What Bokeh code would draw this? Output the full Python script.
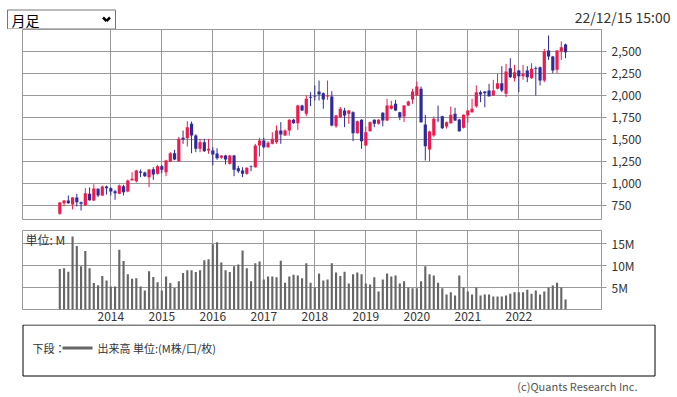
from bokeh.plotting import figure
from bokeh.layouts import column
from bokeh.models import (Range1d, FixedTicker, NumeralTickFormatter, PrintfTickFormatter,
                          ColumnDataSource, Label, BoxAnnotation, Arrow)
from bokeh.embed import file_html
from bokeh.resources import INLINE

# ---------------- data ----------------
months = [f"{y}-{m:02d}" for y in range(2013, 2023) for m in range(1, 13)]

open_ = [656, 776, 807, 761, 841, 787, 753, 883, 807, 939, 864, 966,
         947, 913, 883, 969, 909, 1038, 1026, 1136, 1125, 1072, 1163, 1110,
         1197, 1129, 1250, 1344, 1253, 1519, 1515, 1678, 1545, 1394, 1469, 1375,
         1375, 1340, 1292, 1318, 1224, 1318, 1174, 1148, 1110, 1195, 1185, 1432,
         1489, 1413, 1451, 1470, 1602, 1545, 1602, 1724, 1685, 1886, 1792, 1985,
         1998, 2045, 2026, 1990, 1989, 1651, 1754, 1830, 1792, 1810, 1572, 1724,
         1432, 1595, 1724, 1678, 1803, 1716, 1849, 1905, 1810, 1761, 1886, 1955,
         2000, 2076, 1670, 1386, 1545, 1725, 1765, 1647, 1685, 1792, 1727, 1633,
         1773, 1810, 1879, 2038, 2045, 2057, 2000, 2076, 2140, 2019, 2310, 2197,
         2284, 2220, 2284, 2197, 2310, 2322, 2170, 2511, 2443, 2292, 2500, 2580]

high = [790, 810, 864, 845, 883, 795, 947, 955, 992, 945, 977, 977,
        958, 928, 989, 985, 1045, 1129, 1155, 1159, 1135, 1165, 1185, 1212,
        1212, 1270, 1355, 1383, 1530, 1602, 1708, 1704, 1560, 1508, 1508, 1508,
        1413, 1401, 1320, 1325, 1325, 1325, 1200, 1185, 1185, 1205, 1451, 1519,
        1519, 1480, 1583, 1659, 1697, 1615, 1730, 1735, 1895, 1895, 2000, 2038,
        2114, 2170, 2035, 2170, 2049, 1780, 1870, 1860, 1835, 1820, 1715, 1730,
        1648, 1705, 1730, 1730, 1810, 1962, 1940, 1950, 1815, 1890, 1940, 2076,
        2159, 2102, 1780, 1600, 1761, 1886, 1770, 1705, 1875, 1860, 1735, 1785,
        1835, 1962, 2114, 2057, 2050, 2133, 2178, 2246, 2333, 2360, 2424, 2348,
        2290, 2348, 2333, 2367, 2330, 2330, 2530, 2682, 2450, 2515, 2614, 2590]

low = [645, 742, 770, 705, 739, 693, 745, 805, 800, 845, 860, 875,
       864, 815, 878, 864, 900, 1030, 1011, 1072, 1075, 958, 1042, 1100,
       1117, 1083, 1245, 1265, 1245, 1451, 1420, 1344, 1356, 1356, 1360, 1337,
       1205, 1270, 1280, 1216, 1215, 1083, 1120, 1072, 1100, 1140, 1180, 1307,
       1400, 1405, 1445, 1451, 1451, 1540, 1545, 1680, 1610, 1825, 1765, 1879,
       1943, 1943, 1849, 1950, 1650, 1633, 1745, 1640, 1678, 1481, 1565, 1394,
       1425, 1590, 1640, 1670, 1650, 1710, 1840, 1825, 1720, 1700, 1880, 1906,
       1995, 1690, 1261, 1253, 1530, 1697, 1620, 1625, 1680, 1710, 1590, 1625,
       1690, 1805, 1860, 1924, 1867, 1985, 1995, 2070, 2038, 1980, 2200, 2159,
       2038, 2178, 2151, 2190, 2000, 2114, 2151, 2405, 2254, 2254, 2405, 2424]

close = [784, 807, 776, 841, 787, 769, 890, 810, 943, 864, 966, 947,
         909, 890, 977, 901, 1034, 1053, 1148, 1121, 1083, 1159, 1102, 1197,
         1155, 1261, 1344, 1273, 1508, 1500, 1640, 1545, 1394, 1469, 1367, 1394,
         1330, 1288, 1318, 1273, 1318, 1155, 1140, 1110, 1178, 1190, 1432, 1489,
         1413, 1463, 1508, 1602, 1557, 1602, 1724, 1685, 1886, 1830, 1962, 1975,
         1990, 2011, 1954, 2000, 1659, 1773, 1849, 1773, 1830, 1572, 1708, 1481,
         1583, 1697, 1678, 1724, 1716, 1886, 1886, 1830, 1754, 1886, 1932, 2045,
         2102, 1697, 1424, 1591, 1735, 1720, 1629, 1697, 1780, 1716, 1595, 1780,
         1830, 1849, 2038, 2011, 2026, 1992, 2057, 2140, 2057, 2273, 2208, 2265,
         2220, 2246, 2208, 2303, 2300, 2170, 2500, 2443, 2284, 2511, 2549, 2492]

volume = [9.2, 9.4, 8.6, 16.6, 14.4, 9.8, 13.3, 9.4, 6.0, 5.5, 7.6, 6.6,
          5.2, 5.2, 13.6, 11.0, 8.0, 7.0, 7.1, 5.2, 4.3, 8.7, 7.4, 6.2,
          4.3, 7.5, 6.0, 4.9, 6.4, 8.3, 8.9, 8.9, 8.5, 8.9, 11.2, 11.4,
          14.8, 15.3, 10.7, 8.9, 8.5, 9.8, 10.2, 13.4, 9.4, 6.4, 10.5, 10.9,
          6.8, 7.5, 7.5, 7.3, 11.1, 6.1, 7.5, 7.9, 7.7, 7.1, 10.5, 6.1,
          5.0, 8.2, 6.6, 6.8, 10.5, 8.4, 7.6, 8.6, 5.9, 8.0, 8.4, 8.0,
          5.9, 5.7, 7.3, 4.1, 6.8, 8.2, 7.5, 7.7, 5.9, 6.4, 5.0, 4.8,
          4.8, 6.4, 9.8, 8.0, 7.7, 6.1, 4.8, 3.4, 3.9, 3.2, 7.7, 5.0,
          4.1, 3.4, 5.0, 3.2, 3.4, 3.4, 2.95, 2.95, 2.95, 3.2, 3.6, 3.9,
          3.9, 3.9, 4.5, 3.6, 4.3, 3.4, 4.1, 5.0, 5.45, 6.1, 5.0, 2.3]

year_labels = ["2014", "2015", "2016", "2017", "2018", "2019", "2020", "2021", "2022"]
price_ticks = [750, 1000, 1250, 1500, 1750, 2000, 2250, 2500]
volume_ticks = [5, 10, 15]
period_text = "月足"
date_text = "22/12/15 15:00"
unit_text = "単位: M"
legend_prefix = "下段："
legend_text = "出来高 単位:(M株/口/枚)"
credit_text = "(c)Quants Research Inc."

# ---------------- styling ----------------
FONT = "Noto Sans CJK JP"
W = 677
BL, BR = 22, 76          # side borders -> chart frames span x 22..601
UP = "#ee1a4b"
DOWN = "#2d2a9a"
GRID = "#999999"
VOLC = "#666666"

xs = list(range(len(months)))
colors = [UP if c >= o else DOWN for o, c in zip(open_, close)]
src = ColumnDataSource(dict(x=xs, month=months, open=open_, high=high, low=low,
                            close=close, volume=volume, color=colors,
                            top=[max(o, c) for o, c in zip(open_, close)],
                            bottom=[min(o, c) for o, c in zip(open_, close)]))

year_ticks = [months.index(f"{y}-01") for y in year_labels]
xr = Range1d(-8.78, 127.46)


def blank(height):
    f = figure(width=W, height=height, x_range=Range1d(0, W), y_range=Range1d(height, 0),
               toolbar_location=None, output_backend="svg", min_border=0,
               min_border_left=0, min_border_right=0, min_border_top=0, min_border_bottom=0,
               outline_line_color=None, x_axis_location=None, y_axis_location=None)
    f.grid.visible = False
    try:
        f.frame_align = False
    except Exception:
        pass
    return f


def label(fig, x, y, text, size, color, align="left"):
    fig.add_layout(Label(x=x, y=y, text=text, text_font=FONT, text_font_size=size,
                         text_color=color, text_align=align, text_baseline="middle"))


# ---------------- header ----------------
hdr = blank(29)
hdr.add_layout(BoxAnnotation(left=7, right=115, top=9.5, bottom=28.5, fill_color="white",
                             fill_alpha=1, line_color="#767676", line_alpha=1, line_width=1))
label(hdr, 11, 19.5, period_text, "14px", "#000000")
hdr.add_layout(Arrow(end=None, x_start=102.5, y_start=17, x_end=106, y_end=20.5,
                     line_width=2.5, line_color="#000000"))
hdr.add_layout(Arrow(end=None, x_start=106, y_start=20.5, x_end=109.5, y_end=17,
                     line_width=2.5, line_color="#000000"))
label(hdr, 670, 16.5, date_text, "14px", "#333333", align="right")

# ---------------- price chart ----------------
pp = figure(width=W, height=201, x_range=xr, y_range=Range1d(591, 2750),
            toolbar_location=None, output_backend="svg", x_axis_location=None,
            y_axis_location="right", min_border_left=BL, min_border_right=BR,
            min_border_top=0, min_border_bottom=11)
pp.outline_line_color = GRID
pp.outline_line_width = 1
pp.xgrid.ticker = FixedTicker(ticks=year_ticks)
pp.yaxis.ticker = FixedTicker(ticks=price_ticks)
pp.ygrid.ticker = FixedTicker(ticks=price_ticks)
pp.grid.grid_line_color = GRID
pp.grid.grid_line_alpha = 1
pp.yaxis.formatter = NumeralTickFormatter(format="0,0")
pp.yaxis.axis_line_color = GRID
pp.yaxis.major_tick_line_color = GRID
pp.yaxis.major_tick_out = 5
pp.yaxis.major_tick_in = 0
pp.yaxis.minor_tick_line_color = None
pp.yaxis.major_label_standoff = 5
pp.yaxis.major_label_text_font = FONT
pp.yaxis.major_label_text_font_size = "12px"
pp.yaxis.major_label_text_color = "#333333"

pp.segment(x0="x", y0="high", x1="x", y1="low", source=src, line_color="color", line_width=1)
pp.vbar(x="x", top="top", bottom="bottom", width=0.75, source=src,
        fill_color="color", line_color=None)

# ---------------- volume chart ----------------
vp = figure(width=W, height=94, x_range=xr, y_range=Range1d(0, 17.95),
            toolbar_location=None, output_backend="svg", x_axis_location="below",
            y_axis_location="right", min_border_left=BL, min_border_right=BR,
            min_border_top=0, min_border_bottom=15)
vp.outline_line_color = GRID
vp.outline_line_width = 1
vp.xaxis.ticker = FixedTicker(ticks=year_ticks)
vp.xaxis.major_label_overrides = {t: lab for t, lab in zip(year_ticks, year_labels)}
vp.yaxis.ticker = FixedTicker(ticks=volume_ticks)
vp.yaxis.formatter = PrintfTickFormatter(format="%dM")
vp.grid.grid_line_color = GRID
vp.grid.grid_line_alpha = 1
vp.xaxis.axis_line_color = None
vp.xaxis.major_tick_line_color = None
vp.xaxis.minor_tick_line_color = None
vp.xaxis.major_tick_out = 0
vp.xaxis.major_tick_in = 0
vp.xaxis.major_label_standoff = 2
vp.xaxis.major_label_text_font = FONT
vp.xaxis.major_label_text_font_size = "12px"
vp.xaxis.major_label_text_color = "#333333"
vp.yaxis.axis_line_color = GRID
vp.yaxis.major_tick_line_color = GRID
vp.yaxis.major_tick_out = 5
vp.yaxis.major_tick_in = 0
vp.yaxis.minor_tick_line_color = None
vp.yaxis.major_label_standoff = 5
vp.yaxis.major_label_text_font = FONT
vp.yaxis.major_label_text_font_size = "12px"
vp.yaxis.major_label_text_color = "#333333"

vp.vbar(x="x", top="volume", width=0.5, source=src, fill_color=VOLC, line_color=None)
vp.add_layout(Label(x=-8.1, y=15.9, text=unit_text, text_font=FONT, text_font_size="12px",
                    text_baseline="middle", text_color="#333333"))

# ---------------- footer / legend ----------------
ft = blank(72)
ft.add_layout(BoxAnnotation(left=22.5, right=654.5, top=0.5, bottom=51.5, fill_alpha=0,
                            line_color="#000000", line_alpha=1, line_width=1))
label(ft, 32, 23.5, legend_prefix, "11px", "#333333")
ft.add_layout(BoxAnnotation(left=62, right=92, top=22, bottom=25, fill_color=VOLC,
                            fill_alpha=1, line_color=None))
label(ft, 97, 23.5, legend_text, "11px", "#333333")
label(ft, 637, 61.5, credit_text, "11px", "#555555", align="right")

page = column(hdr, pp, vp, ft, spacing=0)
open("out.html", "w").write(file_html(page, INLINE))
